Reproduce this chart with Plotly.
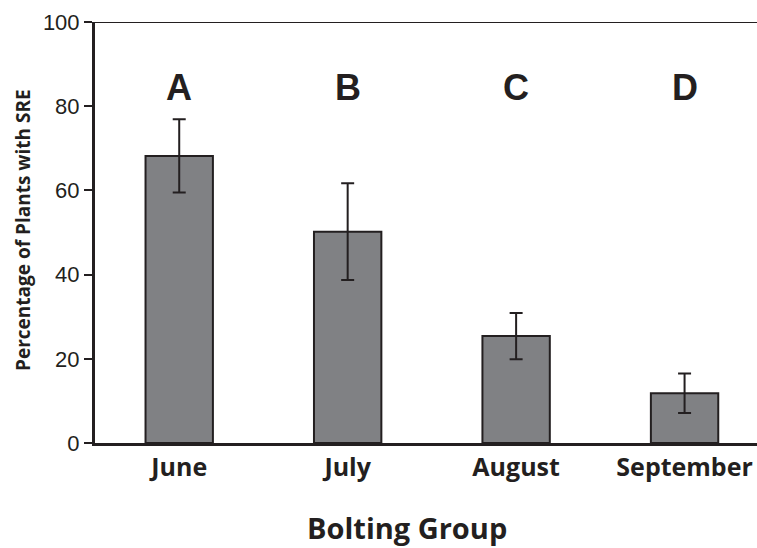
import plotly.graph_objects as go

categories = ["June", "July", "August", "September"]
values = [68.2, 50.2, 25.4, 11.8]
errors = [8.7, 11.5, 5.5, 4.7]
letters = ["A", "B", "C", "D"]
letter_y = 84.5
y_ticks = [0, 20, 40, 60, 80, 100]

ink = "#231f20"

fig = go.Figure()
fig.add_trace(go.Bar(
    x=list(range(len(categories))),
    y=values,
    width=0.40,
    marker=dict(color="#808184", line=dict(color=ink, width=2)),
    error_y=dict(type="data", array=errors, visible=True, color=ink,
                 thickness=2, width=6.5),
    showlegend=False,
))

for i, t in enumerate(letters):
    fig.add_annotation(x=i, y=letter_y, text="<b>" + t + "</b>", showarrow=False,
                       font=dict(family="Liberation Sans", size=36, color=ink),
                       xanchor="center", yanchor="middle")

# axis titles
fig.add_annotation(xref="paper", yref="paper", x=0.471, y=-0.2,
                   text="<b>Bolting Group</b>", showarrow=False,
                   font=dict(family="Open Sans", size=29, color=ink),
                   xanchor="center", yanchor="middle")
fig.add_annotation(xref="paper", yref="paper", x=-0.1088, y=0.506,
                   text="<b>Percentage of Plants with SRE</b>", showarrow=False,
                   textangle=-90,
                   font=dict(family="Open Sans", size=19, color=ink),
                   xanchor="center", yanchor="middle")

fig.add_shape(type="line", xref="paper", yref="y", x0=0, x1=1, y0=100, y1=100,
              line=dict(color=ink, width=2))

fig.update_layout(
    width=757, height=548,
    margin=dict(l=95, r=0, t=22, b=105),
    paper_bgcolor="white", plot_bgcolor="white",
    xaxis=dict(
        range=[-0.5, 3.43],
        tickmode="array", tickvals=list(range(len(categories))),
        ticktext=["<b>" + c + "</b>" for c in categories],
        tickfont=dict(family="Open Sans", size=25, color=ink),
        showline=True, linecolor=ink, linewidth=3,
        ticks="", showgrid=False, zeroline=False,
    ),
    yaxis=dict(
        range=[0, 100],
        tickmode="array", tickvals=y_ticks,
        tickfont=dict(family="Liberation Sans", size=22, color=ink),
        showline=True, linecolor=ink, linewidth=3,
        ticks="outside", ticklen=8, tickwidth=2, tickcolor=ink,
        showgrid=False, zeroline=False,
    ),
)

fig.write_html(
    "out.html",
    config={"displayModeBar": False},
    post_script="document.body.style.margin='0';document.body.style.overflow='hidden';",
)
